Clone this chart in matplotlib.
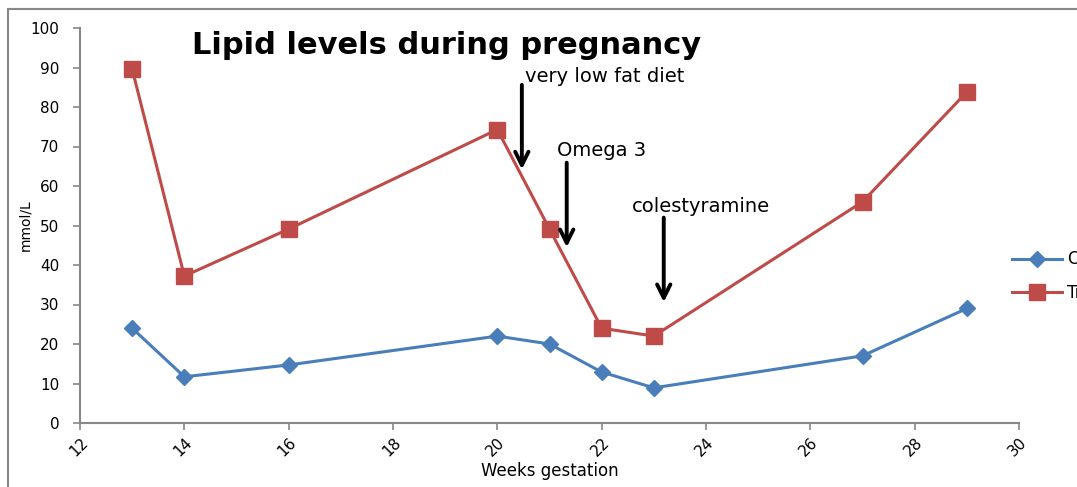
import matplotlib
matplotlib.use("Agg")
import matplotlib.pyplot as plt
from matplotlib.patches import Rectangle

weeks = [13, 14, 16, 20, 21, 22, 23, 27, 29]
cholesterol = [24, 11.7, 14.7, 22, 20, 12.9, 8.9, 17, 29]
triglycerides = [89.6, 37.2, 49.1, 74.3, 49.1, 24, 22, 56, 83.8]
series_names = ["Cholesterol", "Triglycerides"]

notes = ["very low fat diet", "Omega 3", "colestyramine"]
note_x = [20.47, 21.33, 23.19]
note_top = [86.3, 66.6, 52.7]
note_tip = [63.5, 43.8, 29.9]
note_text_x = [20.53, 21.14, 22.58]
note_text_y = [87.8, 69.1, 54.7]

fig = plt.figure(figsize=(10.77, 4.87), dpi=100)
ax = fig.add_axes([80/1077, 1-423/487, 939/1077, 395/487])

# outer chart frame (cropped at right/bottom like the original)
top = 1 - 9.5/487
fig.patches.append(Rectangle((8/1077, -0.2), 1.2, top + 0.2, transform=fig.transFigure,
                             fill=False, edgecolor='#888888', linewidth=1.5, zorder=0))

ax.plot(weeks, cholesterol, color='#4a7ebb', marker='D', markersize=8, linewidth=2.2,
        label=series_names[0])
ax.plot(weeks, triglycerides, color='#be4b48', marker='s', markersize=12, linewidth=2.2,
        label=series_names[1])

for x, y0, y1 in zip(note_x, note_top, note_tip):
    ax.annotate('', xy=(x, y1), xytext=(x, y0),
                arrowprops=dict(arrowstyle='->', color='black', lw=2.8, mutation_scale=24))
for t, tx, ty in zip(notes, note_text_x, note_text_y):
    ax.text(tx, ty, t, fontsize=14, ha='left', va='center')

ax.text(0.39, 0.955, 'Lipid levels during pregnancy', transform=ax.transAxes,
        fontsize=22, fontweight='bold', ha='center', va='center')

ax.set_xlim(12, 30)
ax.set_ylim(0, 100)
ax.set_xticks(range(12, 31, 2))
ax.set_yticks(range(0, 101, 10))
for s in ['top', 'right']:
    ax.spines[s].set_visible(False)
for s in ['left', 'bottom']:
    ax.spines[s].set_color('#888888')
    ax.spines[s].set_linewidth(1.5)
ax.tick_params(colors='#888888', labelcolor='black', length=5, width=1.2, labelsize=11)
ax.tick_params(axis='y', pad=10)
plt.setp(ax.get_xticklabels(), rotation=45, ha='right', rotation_mode='anchor')
ax.set_xlabel('Weeks gestation', fontsize=12, labelpad=2)
ax.set_ylabel('mmol/L', fontsize=10)
ax.yaxis.set_label_coords(-0.051, 0.5)

ax.legend(loc='center left', bbox_to_anchor=(1012/1077, 1-276/487), bbox_transform=fig.transFigure,
          frameon=False, fontsize=12, handlelength=3, handletextpad=0.3, labelspacing=0.9,
          borderaxespad=0, borderpad=0)

fig.savefig('out.png', dpi=100)
